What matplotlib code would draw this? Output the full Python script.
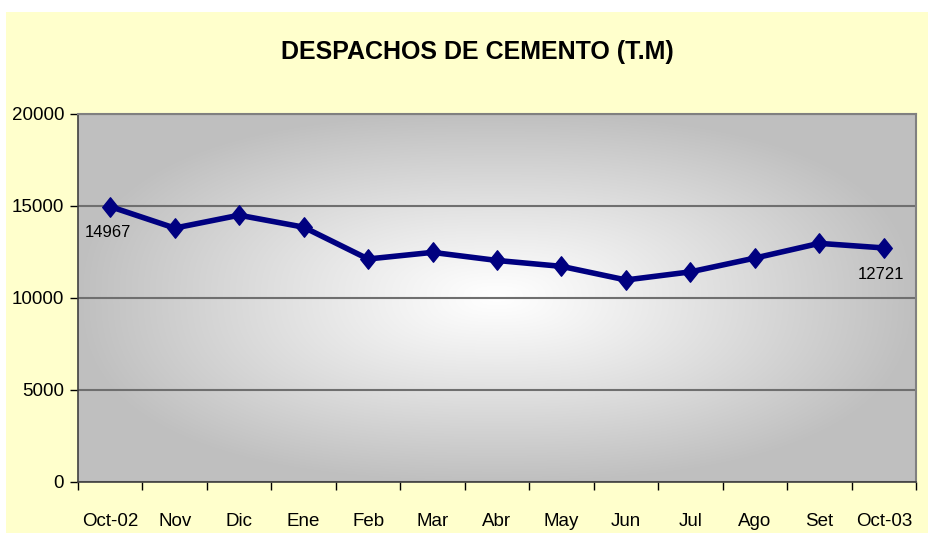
import numpy as np
import matplotlib
matplotlib.use("Agg")
import matplotlib.pyplot as plt
from matplotlib.patches import Rectangle
from matplotlib.path import Path

plt.rcParams['font.family'] = ['Liberation Sans', 'DejaVu Sans']

# datos
meses = ['Oct-02', 'Nov', 'Dic', 'Ene', 'Feb', 'Mar', 'Abr',
         'May', 'Jun', 'Jul', 'Ago', 'Set', 'Oct-03']
despachos = [14967, 13800, 14500, 13850, 12120, 12480, 12040,
             11720, 10980, 11420, 12170, 12970, 12721]
y_ticks = [0, 5000, 10000, 15000, 20000]

W, H = 929, 543
fig = plt.figure(figsize=(W / 100, H / 100), dpi=100, facecolor='white')

# fondo amarillo del area del grafico
fig.patches.append(Rectangle((6 / W, 10 / H), 1 - 6 / W, 1 - 22 / H,
                             transform=fig.transFigure, facecolor='#FFFFCC',
                             edgecolor='none', zorder=-10))

ax = fig.add_axes([78 / W, 61 / H, 838 / W, 368 / H])
ax.set_facecolor('none')

# degradado desde el centro (blanco al centro, gris en los bordes)
gx, gy = np.meshgrid(np.linspace(-1, 1, 400), np.linspace(-1, 1, 300))
r = (np.abs(gx) ** 2.5 + np.abs(gy) ** 2.5) ** (1 / 2.5)
v = 1 - 0.25 * np.clip(r, 0, 1) ** 1.1
img = np.dstack([v, v, v])
ax.imshow(img, extent=[-0.5, len(meses) - 0.5, 0, 20000], aspect='auto',
          zorder=0, interpolation='bilinear')

x = np.arange(len(meses))
ax.set_xlim(-0.5, len(meses) - 0.5)
ax.set_ylim(0, 20000)

ax.set_yticks(y_ticks)
ax.yaxis.grid(True, color='#6F6F6F', linewidth=1.5, zorder=1)
ax.set_axisbelow(True)

ax.set_xticks(x)
ax.set_xticklabels(meses)
ax.set_xticks(np.arange(len(meses) + 1) - 0.5, minor=True)
ax.tick_params(axis='x', which='major', length=0, pad=22, labelsize=13.5)
ax.tick_params(axis='x', which='minor', length=6, width=1, color='black')
ax.tick_params(axis='y', length=6, width=1, color='black', labelsize=13.5, pad=4)

for s in ['top', 'right']:
    ax.spines[s].set_color('#808080')
    ax.spines[s].set_linewidth(1.5)
for s in ['left', 'bottom']:
    ax.spines[s].set_color('#404040')
    ax.spines[s].set_linewidth(1.2)

rombo = Path([(0, 1), (0.8, 0), (0, -1), (-0.8, 0), (0, 1)],
             [Path.MOVETO, Path.LINETO, Path.LINETO, Path.LINETO, Path.CLOSEPOLY])
ax.plot(x, despachos, color='#000080', linewidth=4, marker=rombo,
        markersize=14, markeredgewidth=1, zorder=3)

# etiquetas del primer y ultimo punto
for i in [0, len(meses) - 1]:
    ax.annotate(str(despachos[i]), (x[i], despachos[i]), xytext=(-2, -19),
                textcoords='offset points', ha='center', va='center',
                fontsize=12, zorder=4)

fig.text(477 / W, 1 - 52 / H, 'DESPACHOS DE CEMENTO (T.M)', ha='center',
         va='center', fontsize=18, fontweight='bold')

fig.savefig('out.png', dpi=100, facecolor='white')
